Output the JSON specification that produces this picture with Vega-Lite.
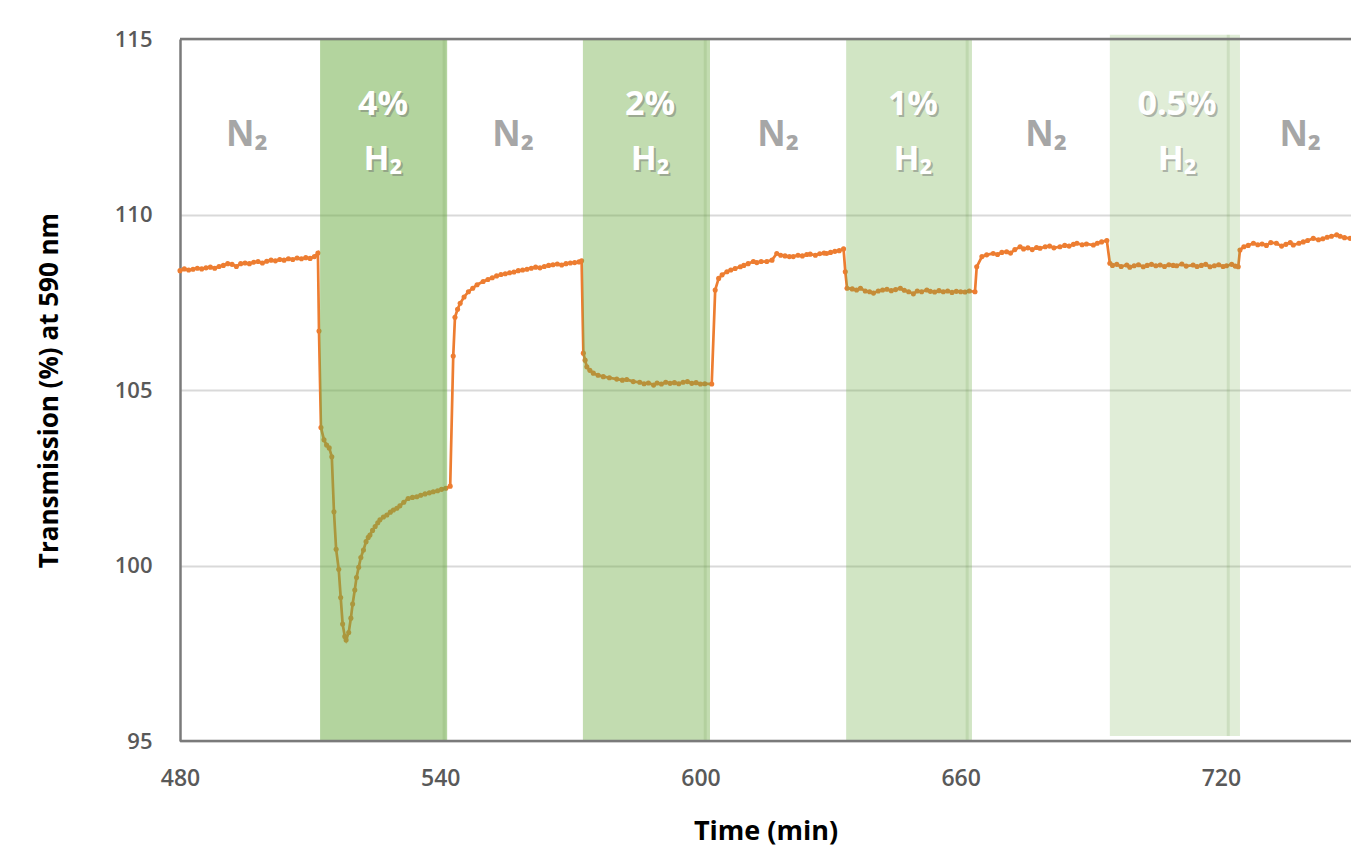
{
  "$schema": "https://vega.github.io/schema/vega-lite/v6.json",
  "width": 1171,
  "height": 702,
  "autosize": {"type": "none"},
  "padding": {"left": 180, "top": 39, "right": 0, "bottom": 110},
  "background": "white",
  "config": {
    "view": {"stroke": null},
    "font": "Open Sans"
  },
  "datasets": {
    "series": [
      {"t":480,"v":108.40},{"t":481,"v":108.45},{"t":482,"v":108.42},{"t":483,"v":108.44},{"t":484,"v":108.47},{"t":485,"v":108.45},{"t":486,"v":108.48},{"t":487,"v":108.50},{"t":488,"v":108.47},{"t":489,"v":108.52},{"t":490,"v":108.55},{"t":491,"v":108.60},{"t":492,"v":108.58},{"t":493,"v":108.52},{"t":494,"v":108.60},{"t":495,"v":108.62},{"t":496,"v":108.60},{"t":497,"v":108.64},{"t":498,"v":108.66},{"t":499,"v":108.62},{"t":500,"v":108.67},{"t":501,"v":108.70},{"t":502,"v":108.68},{"t":503,"v":108.72},{"t":504,"v":108.70},{"t":505,"v":108.74},{"t":506,"v":108.72},{"t":507,"v":108.76},{"t":508,"v":108.74},{"t":509,"v":108.77},{"t":510,"v":108.75},{"t":511,"v":108.80},{"t":511.8,"v":108.90},
      {"t":512.05,"v":106.68},{"t":512.5,"v":103.93},{"t":513.2,"v":103.58},{"t":513.8,"v":103.43},{"t":514.4,"v":103.35},{"t":515.0,"v":103.10},{"t":515.5,"v":101.53},{"t":516.0,"v":100.46},{"t":516.6,"v":99.89},{"t":517.05,"v":99.09},{"t":517.5,"v":98.33},{"t":518.0,"v":97.98},{"t":518.3,"v":97.88},{"t":518.9,"v":98.09},{"t":519.4,"v":98.50},{"t":519.8,"v":98.90},{"t":520.3,"v":99.30},{"t":520.7,"v":99.66},{"t":521.2,"v":99.95},{"t":521.7,"v":100.23},{"t":522.3,"v":100.44},{"t":522.9,"v":100.68},{"t":523.4,"v":100.80},{"t":523.8,"v":100.87},{"t":524.4,"v":101.00},{"t":525.0,"v":101.11},{"t":525.6,"v":101.22},{"t":526.1,"v":101.30},{"t":526.9,"v":101.38},{"t":527.7,"v":101.44},{"t":528.5,"v":101.52},{"t":529.2,"v":101.58},{"t":530.0,"v":101.63},{"t":530.7,"v":101.70},{"t":531.6,"v":101.80},{"t":532.6,"v":101.91},{"t":533.6,"v":101.94},{"t":534.6,"v":101.96},{"t":535.5,"v":102.00},{"t":536.5,"v":102.04},{"t":537.5,"v":102.07},{"t":538.4,"v":102.10},{"t":539.4,"v":102.13},{"t":540.3,"v":102.17},{"t":541.3,"v":102.20},{"t":542.3,"v":102.26},
      {"t":543.0,"v":105.97},{"t":543.4,"v":107.07},{"t":544.0,"v":107.30},{"t":544.6,"v":107.47},{"t":545.5,"v":107.65},{"t":546.5,"v":107.80},{"t":547.5,"v":107.90},{"t":548.5,"v":108.00},{"t":549.9,"v":108.09},{"t":551,"v":108.15},{"t":552,"v":108.20},{"t":553,"v":108.25},{"t":554,"v":108.29},{"t":555,"v":108.31},{"t":556,"v":108.34},{"t":557,"v":108.36},{"t":558,"v":108.40},{"t":559,"v":108.42},{"t":560,"v":108.44},{"t":561,"v":108.47},{"t":562,"v":108.50},{"t":563,"v":108.48},{"t":564,"v":108.52},{"t":565,"v":108.55},{"t":566,"v":108.57},{"t":567,"v":108.59},{"t":568,"v":108.56},{"t":569,"v":108.60},{"t":570,"v":108.62},{"t":571,"v":108.63},{"t":572,"v":108.65},{"t":572.6,"v":108.68},
      {"t":573.0,"v":106.05},{"t":573.4,"v":105.85},{"t":573.8,"v":105.66},{"t":574.5,"v":105.56},{"t":575.3,"v":105.48},{"t":576.4,"v":105.42},{"t":577.6,"v":105.38},{"t":579,"v":105.35},{"t":580.7,"v":105.31},{"t":582,"v":105.28},{"t":583,"v":105.30},{"t":584.5,"v":105.24},{"t":586,"v":105.22},{"t":587,"v":105.18},{"t":588,"v":105.20},{"t":589.2,"v":105.14},{"t":590,"v":105.20},{"t":591,"v":105.17},{"t":592,"v":105.22},{"t":593,"v":105.19},{"t":594,"v":105.21},{"t":595,"v":105.18},{"t":596,"v":105.22},{"t":597,"v":105.24},{"t":598,"v":105.19},{"t":599,"v":105.21},{"t":600,"v":105.17},{"t":601,"v":105.18},{"t":602.6,"v":105.17},
      {"t":603.4,"v":107.85},{"t":604.2,"v":108.18},{"t":605,"v":108.28},{"t":606.1,"v":108.37},{"t":607,"v":108.42},{"t":608,"v":108.46},{"t":609.2,"v":108.51},{"t":610,"v":108.55},{"t":611,"v":108.60},{"t":612.2,"v":108.66},{"t":613,"v":108.63},{"t":614,"v":108.66},{"t":615.3,"v":108.66},{"t":616.5,"v":108.70},{"t":617.6,"v":108.89},{"t":618.5,"v":108.84},{"t":619.5,"v":108.82},{"t":620.5,"v":108.80},{"t":621.4,"v":108.80},{"t":622.5,"v":108.84},{"t":623.5,"v":108.82},{"t":624.5,"v":108.86},{"t":625.3,"v":108.87},{"t":626.5,"v":108.84},{"t":627.5,"v":108.88},{"t":628.5,"v":108.90},{"t":629.1,"v":108.89},{"t":630,"v":108.92},{"t":631,"v":108.95},{"t":632,"v":108.97},{"t":633.0,"v":109.02},
      {"t":633.4,"v":108.37},{"t":633.8,"v":107.90},{"t":635,"v":107.88},{"t":636,"v":107.85},{"t":636.9,"v":107.90},{"t":638,"v":107.82},{"t":639,"v":107.80},{"t":639.9,"v":107.76},{"t":641,"v":107.82},{"t":642,"v":107.85},{"t":643,"v":107.87},{"t":644,"v":107.83},{"t":645,"v":107.86},{"t":646.1,"v":107.90},{"t":647,"v":107.84},{"t":648,"v":107.80},{"t":649.1,"v":107.74},{"t":650,"v":107.82},{"t":651,"v":107.80},{"t":652.2,"v":107.85},{"t":653,"v":107.81},{"t":654,"v":107.79},{"t":655,"v":107.83},{"t":656,"v":107.80},{"t":657,"v":107.82},{"t":658,"v":107.78},{"t":659,"v":107.81},{"t":660,"v":107.80},{"t":661,"v":107.79},{"t":662,"v":107.82},{"t":663.3,"v":107.80},
      {"t":663.7,"v":108.51},{"t":664.9,"v":108.80},{"t":666,"v":108.85},{"t":667.5,"v":108.89},{"t":668.5,"v":108.86},{"t":669.5,"v":108.92},{"t":670.6,"v":108.94},{"t":671.5,"v":108.90},{"t":672.5,"v":109.00},{"t":673.7,"v":109.08},{"t":674.5,"v":109.02},{"t":675.5,"v":109.05},{"t":676.5,"v":109.00},{"t":677.5,"v":109.06},{"t":678.3,"v":109.04},{"t":679.5,"v":109.08},{"t":680.5,"v":109.10},{"t":681.5,"v":109.05},{"t":682.9,"v":109.08},{"t":684,"v":109.12},{"t":685,"v":109.10},{"t":686,"v":109.15},{"t":686.8,"v":109.18},{"t":688,"v":109.14},{"t":689,"v":109.16},{"t":690.6,"v":109.13},{"t":691.5,"v":109.18},{"t":692.5,"v":109.22},{"t":693.7,"v":109.26},
      {"t":694.4,"v":108.61},{"t":695,"v":108.55},{"t":696,"v":108.58},{"t":697,"v":108.52},{"t":698.3,"v":108.56},{"t":699,"v":108.50},{"t":700,"v":108.54},{"t":701,"v":108.57},{"t":702.1,"v":108.51},{"t":703,"v":108.55},{"t":704,"v":108.58},{"t":705,"v":108.54},{"t":706,"v":108.56},{"t":707,"v":108.52},{"t":708,"v":108.57},{"t":709,"v":108.55},{"t":709.8,"v":108.54},{"t":711,"v":108.59},{"t":712,"v":108.53},{"t":713.6,"v":108.56},{"t":714.5,"v":108.52},{"t":715.5,"v":108.55},{"t":716.5,"v":108.58},{"t":717.5,"v":108.51},{"t":718.5,"v":108.54},{"t":719.5,"v":108.57},{"t":720.5,"v":108.52},{"t":721.3,"v":108.54},{"t":722.5,"v":108.58},{"t":723.3,"v":108.53},{"t":724.0,"v":108.51},
      {"t":724.4,"v":108.99},{"t":725.3,"v":109.08},{"t":726.3,"v":109.12},{"t":727.5,"v":109.18},{"t":728.5,"v":109.14},{"t":729.5,"v":109.16},{"t":730.5,"v":109.12},{"t":731.5,"v":109.20},{"t":732.8,"v":109.18},{"t":734,"v":109.10},{"t":735,"v":109.15},{"t":736,"v":109.20},{"t":736.7,"v":109.13},{"t":738,"v":109.18},{"t":739,"v":109.22},{"t":740,"v":109.26},{"t":741.3,"v":109.32},{"t":742.5,"v":109.28},{"t":743.5,"v":109.31},{"t":744.5,"v":109.35},{"t":745.5,"v":109.38},{"t":746.7,"v":109.42},{"t":747.5,"v":109.38},{"t":748.5,"v":109.34},{"t":749.8,"v":109.32}
    ],
    "bands": [
      {"pct":4,"start":512.3,"end":541.6,"edge":540.9,"top":115,"bottom":95},
      {"pct":2,"start":572.9,"end":602.2,"edge":601.1,"top":115,"bottom":95},
      {"pct":1,"start":633.6,"end":662.6,"edge":661.5,"top":115,"bottom":95},
      {"pct":0.5,"start":694.4,"end":724.4,"edge":721.7,"top":115.12,"bottom":95.14}
    ],
    "frame": [{"v":115},{"v":95}],
    "n2labels": [
      {"t":495.4,"v":112.26,"label":"N₂"},
      {"t":556.8,"v":112.26,"label":"N₂"},
      {"t":617.9,"v":112.26,"label":"N₂"},
      {"t":679.7,"v":112.26,"label":"N₂"},
      {"t":738.3,"v":112.26,"label":"N₂"}
    ],
    "h2labels": [
      {"t":526.8,"v":113.12,"label":"4%"},
      {"t":526.8,"v":111.55,"label":"H₂"},
      {"t":588.4,"v":113.12,"label":"2%"},
      {"t":588.4,"v":111.55,"label":"H₂"},
      {"t":649.0,"v":113.12,"label":"1%"},
      {"t":649.0,"v":111.55,"label":"H₂"},
      {"t":709.9,"v":113.12,"label":"0.5%"},
      {"t":709.9,"v":111.55,"label":"H₂"}
    ]
  },
  "layer": [
    {
      "data": {"name": "series"},
      "mark": {"type": "line", "color": "#ED7D31", "strokeWidth": 2.7, "point": {"filled": true, "size": 26, "color": "#ED7D31"}},
      "encoding": {
        "x": {
          "field": "t", "type": "quantitative",
          "scale": {"domain": [480, 750], "nice": false, "zero": false},
          "axis": {
            "values": [480, 540, 600, 660, 720],
            "grid": false, "ticks": false, "domain": false, "labelFlush": false,
            "labelFont": "Open Sans", "labelFontSize": 23, "labelFontWeight": 600,
            "labelColor": "#595959", "labelPadding": 26,
            "title": "Time (min)", "titleFont": "Open Sans", "titleFontSize": 27,
            "titleFontWeight": "bold", "titleColor": "#000000", "titlePadding": 28
          }
        },
        "y": {
          "field": "v", "type": "quantitative",
          "scale": {"domain": [95, 115], "nice": false, "zero": false},
          "axis": {
            "values": [95, 100, 105, 110, 115],
            "grid": true, "gridColor": "#d9d9d9", "gridWidth": 2,
            "ticks": false, "domain": true, "domainColor": "#7a7a7a", "domainWidth": 2.5,
            "labelFont": "Open Sans", "labelFontSize": 22, "labelFontWeight": 600,
            "labelColor": "#595959", "labelPadding": 28,
            "title": "Transmission (%) at 590 nm", "titleFont": "Open Sans",
            "titleFontSize": 26, "titleFontWeight": "bold", "titleColor": "#000000",
            "titlePadding": 52
          }
        }
      }
    },
    {
      "data": {"name": "bands"},
      "mark": {"type": "rect", "color": "#70AD47"},
      "encoding": {
        "x": {"field": "start", "type": "quantitative"},
        "x2": {"field": "end"},
        "y": {"field": "top", "type": "quantitative"},
        "y2": {"field": "bottom"},
        "fillOpacity": {
          "field": "pct", "type": "quantitative",
          "scale": {"type": "log", "domain": [0.5, 4], "range": [0.22, 0.53]},
          "legend": null
        }
      }
    },
    {
      "data": {"name": "bands"},
      "mark": {"type": "rule", "color": "#5f8f3e", "strokeWidth": 3, "opacity": 0.15},
      "encoding": {
        "x": {"field": "edge", "type": "quantitative"},
        "y": {"field": "top", "type": "quantitative"},
        "y2": {"field": "bottom"}
      }
    },
    {
      "data": {"name": "frame"},
      "mark": {"type": "rule", "color": "#7a7a7a", "strokeWidth": 2.5},
      "encoding": {
        "y": {"field": "v", "type": "quantitative"}
      }
    },
    {
      "data": {"name": "n2labels"},
      "mark": {"type": "text", "font": "Open Sans", "fontSize": 35, "fontWeight": "bold", "color": "#a6a6a6", "align": "center", "baseline": "middle"},
      "encoding": {
        "x": {"field": "t", "type": "quantitative"},
        "y": {"field": "v", "type": "quantitative"},
        "text": {"field": "label"}
      }
    },
    {
      "data": {"name": "h2labels"},
      "mark": {"type": "text", "font": "Open Sans", "fontSize": 34, "fontWeight": "bold", "color": "#6f6f6f", "opacity": 0.45, "align": "center", "baseline": "middle", "dx": 2, "dy": 2},
      "encoding": {
        "x": {"field": "t", "type": "quantitative"},
        "y": {"field": "v", "type": "quantitative"},
        "text": {"field": "label"}
      }
    },
    {
      "data": {"name": "h2labels"},
      "mark": {"type": "text", "font": "Open Sans", "fontSize": 34, "fontWeight": "bold", "color": "#ffffff", "align": "center", "baseline": "middle"},
      "encoding": {
        "x": {"field": "t", "type": "quantitative"},
        "y": {"field": "v", "type": "quantitative"},
        "text": {"field": "label"}
      }
    }
  ]
}
